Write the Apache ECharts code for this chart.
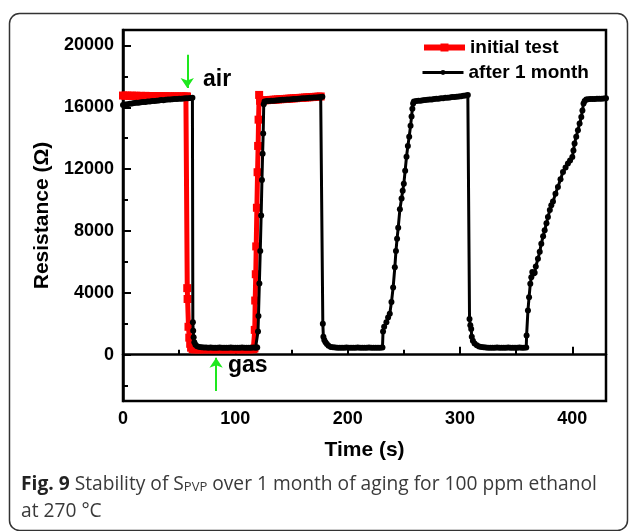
<!DOCTYPE html>
<html>
<head>
<meta charset="utf-8">
<script src="https://cdn.jsdelivr.net/npm/echarts@6/dist/echarts.min.js"></script>
<style>
  html, body { margin: 0; padding: 0; background: #fff; }
  #chart { width: 629px; height: 531px; }
</style>
</head>
<body>
<div id="chart"></div>
<script>
// initial test (red squares)
const initTime = [
  0, 2, 4, 6, 8, 10, 12, 14, 16, 18, 20, 22, 24, 26, 28, 30, 32, 34, 36, 38, 40, 42, 44, 46, 48, 50, 52, 54, 56, 57,
  57.2, 57.5, 58.3, 59, 59.8, 60.6, 62,
  64, 66, 68, 70, 72, 74, 76, 78, 80, 82, 84, 86, 88, 90, 92, 94, 96, 98, 100, 102, 104, 106, 108, 110, 112, 114, 116,
  117, 117.3, 117.7, 118.2, 118.6, 119.2, 119.8, 120.3, 120.7, 121.2, 122,
  124, 126, 128, 130, 132, 134, 136, 138, 140, 142, 144, 146, 148, 150, 152, 154, 156, 158, 160, 162, 164, 166, 168, 170, 172, 174, 176
]
const initRes = [
  16760, 16750, 16760, 16740, 16750, 16740, 16750, 16730, 16740, 16730, 16740, 16720, 16730, 16720, 16730, 16710, 16720, 16720, 16710, 16720, 16700, 16710, 16700, 16710, 16700, 16700, 16710, 16700, 16700, 16700,
  4300, 3600, 1800, 1100, 700, 450, 350,
  340, 350, 340, 350, 340, 350, 350, 340, 350, 340, 350, 350, 340, 350, 340, 350, 350, 340, 350, 340, 350, 350, 340, 350, 340, 350, 350,
  400, 1600, 3500, 5200, 7000, 9500, 11800, 13500, 15200, 16800, 16420,
  16440, 16450, 16460, 16470, 16480, 16490, 16500, 16510, 16520, 16530, 16540, 16550, 16560, 16570, 16580, 16590, 16600, 16610, 16620, 16630, 16640, 16650, 16660, 16670, 16680, 16690, 16700
]

// after 1 month (black dots)
const afterTime = [
  0, 2, 4, 6, 8, 10, 12, 14, 16, 18, 20, 22, 24, 26, 28, 30, 32, 34, 36, 38, 40, 42, 44, 46, 48, 50, 52, 54, 56, 58, 60, 61.8,
  62.2, 62.5, 62.9, 63.5, 64.5, 66, 68, 70,
  72, 74, 76, 78, 80, 82, 84, 86, 88, 90, 92, 94, 96, 98, 100, 102, 104, 106, 108, 110, 112, 114, 116, 118, 119.5,
  120.2, 120.6, 121.4, 122.2, 123, 123.7, 124.3, 124.8, 125.3,
  126, 128, 130, 132, 134, 136, 138, 140, 142, 144, 146, 148, 150, 152, 154, 156, 158, 160, 162, 164, 166, 168, 170, 172, 174, 176, 177.5,
  177.9, 178.4, 179.2, 180.3, 181.5, 183, 185, 187,
  189, 191, 193, 195, 197, 199, 201, 203, 205, 207, 209, 211, 213, 215, 217, 219, 221, 223, 225, 227, 229, 231,
  231.5, 232.5, 234.5, 236, 237.5, 239, 240.5, 242, 243, 244, 245, 246.5, 248, 249, 250, 251.2, 252.4, 253.6, 254.8, 256, 256.9, 257.6, 258.3,
  259, 261, 263, 265, 267, 269, 271, 273, 275, 277, 279, 281, 283, 285, 287, 289, 291, 293, 295, 297, 299, 301, 303, 305, 307,
  308.5, 309.2, 310, 310.5, 311.5, 313, 315, 317, 319, 321,
  323, 325, 327, 329, 331, 333, 335, 337, 339, 341, 343, 345, 347, 349, 351, 353, 355, 357, 359,
  359.3, 360.5, 361.5, 362.6, 363.5, 364.4, 365.5, 366.5, 367.5, 369.4, 371, 372.4, 374, 375.4, 377, 378.3, 380, 381.3, 382.8, 385, 387.2, 389.5, 391.7, 394, 396.1, 398, 400, 401, 402, 403.5, 405, 406.5, 408, 409, 410, 411, 412.4,
  414, 416, 418, 420, 422, 424, 426, 428, 430
]
const afterRes = [
  16150, 16180, 16200, 16230, 16250, 16270, 16290, 16300, 16320, 16340, 16350, 16370, 16380, 16400, 16410, 16430, 16440, 16470, 16460, 16480, 16500, 16510, 16520, 16530, 16540, 16550, 16560, 16570, 16580, 16590, 16600, 16620,
  2100, 1550, 1120, 800, 640, 540, 490, 470,
  460, 455, 450, 455, 450, 445, 450, 455, 450, 445, 450, 450, 455, 450, 445, 450, 450, 455, 450, 450, 445, 450, 455, 450, 460,
  1500, 2500, 4600, 6700, 9000, 11300, 13000, 14300, 16200,
  16380, 16400, 16410, 16420, 16430, 16440, 16450, 16470, 16480, 16490, 16500, 16510, 16520, 16530, 16540, 16560, 16570, 16580, 16590, 16600, 16610, 16620, 16630, 16640, 16650, 16660, 16680,
  2000, 1150, 950, 800, 680, 580, 500, 470,
  455, 450, 450, 445, 450, 455, 450, 450, 445, 450, 455, 450, 450, 445, 450, 455, 450, 450, 445, 450, 450, 455,
  1500, 1800, 2100, 2400, 2650, 3400, 4350, 5650, 6700, 7500, 8200, 9400, 10100, 10600, 11050, 11900, 12800, 13500, 14100, 14800, 15400, 15900, 16250,
  16380, 16400, 16420, 16430, 16450, 16470, 16480, 16500, 16510, 16530, 16550, 16560, 16580, 16590, 16610, 16620, 16640, 16660, 16670, 16690, 16700, 16720, 16740, 16770, 16800,
  2300, 1900, 1650, 1150, 900, 720, 600, 530, 490, 470,
  455, 450, 450, 445, 450, 455, 450, 450, 445, 450, 455, 450, 450, 445, 450, 455, 450, 450, 460,
  1230, 2850, 3710, 4580, 5000, 5340, 5250, 5300, 5700, 6200, 6650, 7180, 7650, 8040, 8500, 8900, 9350, 9660, 9900, 10400, 10850, 11350, 11820, 12100, 12360, 12550, 12790, 13200, 13660, 14100, 14520, 14950, 15380, 15800, 16250, 16400, 16510,
  16520, 16530, 16540, 16540, 16550, 16560, 16560, 16570, 16580
]

const yLabelValues = [0, 4000, 8000, 12000, 16000, 20000]
const yMinorValues = [-2000, 2000, 6000, 10000, 14000, 18000]

// green arrows: [time, from, to]
const airArrow = [57.2, 19400, 17250]
const gasArrow = [82.9, -2350, -200]

const zip = (xs, ys) => xs.map((x, i) => [x, ys[i]])

const FONT = '"Liberation Sans", Arial, sans-serif'
const CAPTION_FONT = '"Open Sans", "Noto Sans", sans-serif'
const GREEN = '#1ee81e'
const legendText = { fontFamily: FONT, fontWeight: 'bold', fontSize: 19, color: '#000' }

const chart = echarts.init(document.getElementById('chart'))

const option = {
  animation: false,
  grid: {
    left: 123,
    right: 23,
    top: 30,
    bottom: 130,
    show: true,
    borderColor: '#000',
    borderWidth: 2.5,
  },
  // two legends so each icon can get its own size
  legend: [
    {
      left: 421,
      top: 38,
      padding: 0,
      itemWidth: 41,
      itemHeight: 10,
      lineStyle: { width: 6 },
      textStyle: legendText,
      data: ['initial test'],
    },
    {
      left: 421,
      top: 63,
      padding: 0,
      itemWidth: 41,
      itemHeight: 6,
      lineStyle: { width: 3 },
      textStyle: legendText,
      data: ['after 1 month'],
    },
  ],
  xAxis: {
    type: 'value',
    min: 0,
    max: 430,
    interval: 100,
    name: 'Time (s)',
    nameLocation: 'middle',
    nameGap: 39,
    nameTextStyle: { fontFamily: FONT, fontWeight: 'bold', fontSize: 21, color: '#000' },
    axisLine: { show: true, lineStyle: { color: '#000', width: 2.5 } },
    axisTick: { show: true, inside: true, length: 8, lineStyle: { color: '#000', width: 2 } },
    minorTick: { show: true, splitNumber: 2, length: 5, lineStyle: { color: '#000', width: 2 } },
    axisLabel: { margin: 9, fontFamily: FONT, fontWeight: 'bold', fontSize: 18, color: '#000', showMaxLabel: false },
    splitLine: { show: false },
  },
  yAxis: [
    {
      type: 'value',
      min: -3000,
      max: 21000,
      name: 'Resistance (Ω)',
      nameLocation: 'middle',
      nameGap: 69,
      nameTextStyle: { fontFamily: FONT, fontWeight: 'bold', fontSize: 21, color: '#000' },
      axisLine: { show: true, lineStyle: { color: '#000', width: 2.5 } },
      axisTick: { show: true, inside: true, length: 8, customValues: yLabelValues, lineStyle: { color: '#000', width: 2 } },
      axisLabel: {
        margin: 9,
        customValues: yLabelValues,
        formatter: (v) => String(v),
        fontFamily: FONT,
        fontWeight: 'bold',
        fontSize: 18,
        color: '#000',
      },
      splitLine: { show: false },
    },
    {
      type: 'value',
      min: -3000,
      max: 21000,
      position: 'left',
      axisLine: { show: false },
      axisTick: { show: true, inside: true, length: 5, customValues: yMinorValues, lineStyle: { color: '#000', width: 2 } },
      axisLabel: { show: false },
      splitLine: { show: false },
    },
  ],
  series: [
    {
      name: 'initial test',
      type: 'line',
      data: zip(initTime, initRes),
      symbol: 'rect',
      symbolSize: 8,
      lineStyle: { color: '#ff0000', width: 5 },
      itemStyle: { color: '#ff0000' },
      z: 2,
    },
    {
      name: 'after 1 month',
      type: 'line',
      data: zip(afterTime, afterRes),
      symbol: 'circle',
      symbolSize: 6,
      lineStyle: { color: '#000', width: 3 },
      itemStyle: { color: '#000' },
      z: 3,
      markLine: {
        silent: true,
        symbol: ['none', 'arrow'],
        symbolSize: 10,
        label: { show: false },
        lineStyle: { color: GREEN, width: 2, type: 'solid' },
        data: [
          [{ coord: [airArrow[0], airArrow[1]] }, { coord: [airArrow[0], airArrow[2]] }],
          [{ coord: [gasArrow[0], gasArrow[1]] }, { coord: [gasArrow[0], gasArrow[2]] }],
        ],
      },
    },
  ],
  graphic: [
    {
      type: 'rect',
      shape: { x: 9.5, y: 13.5, width: 618, height: 517, r: 10 },
      style: { fill: 'none', stroke: '#333', lineWidth: 1.5 },
      silent: true,
      z: -10,
    },
    {
      type: 'text',
      left: 203,
      top: 68,
      style: { text: 'air', font: 'bold 23px ' + FONT, fill: '#000' },
    },
    {
      type: 'text',
      left: 228,
      top: 354,
      style: { text: 'gas', font: 'bold 23px ' + FONT, fill: '#000' },
    },
    {
      type: 'text',
      left: 21,
      top: 475,
      style: {
        text: '{b|Fig. 9} Stability of S{sub|PVP} over 1 month of aging for 100 ppm ethanol',
        font: '19.2px ' + CAPTION_FONT,
        fill: '#3a3a3a',
        rich: {
          b: { fontFamily: CAPTION_FONT, fontSize: 19.2, fontWeight: 'bold', fill: '#222' },
          sub: { fontFamily: CAPTION_FONT, fontSize: 13, fill: '#3a3a3a', verticalAlign: 'bottom', padding: [6, 0, 0, 0] },
        },
      },
    },
    {
      type: 'text',
      left: 21,
      top: 502,
      style: { text: 'at 270 °C', font: '19.2px ' + CAPTION_FONT, fill: '#3a3a3a' },
    },
  ],
}

chart.setOption(option)
</script>
</body>
</html>
